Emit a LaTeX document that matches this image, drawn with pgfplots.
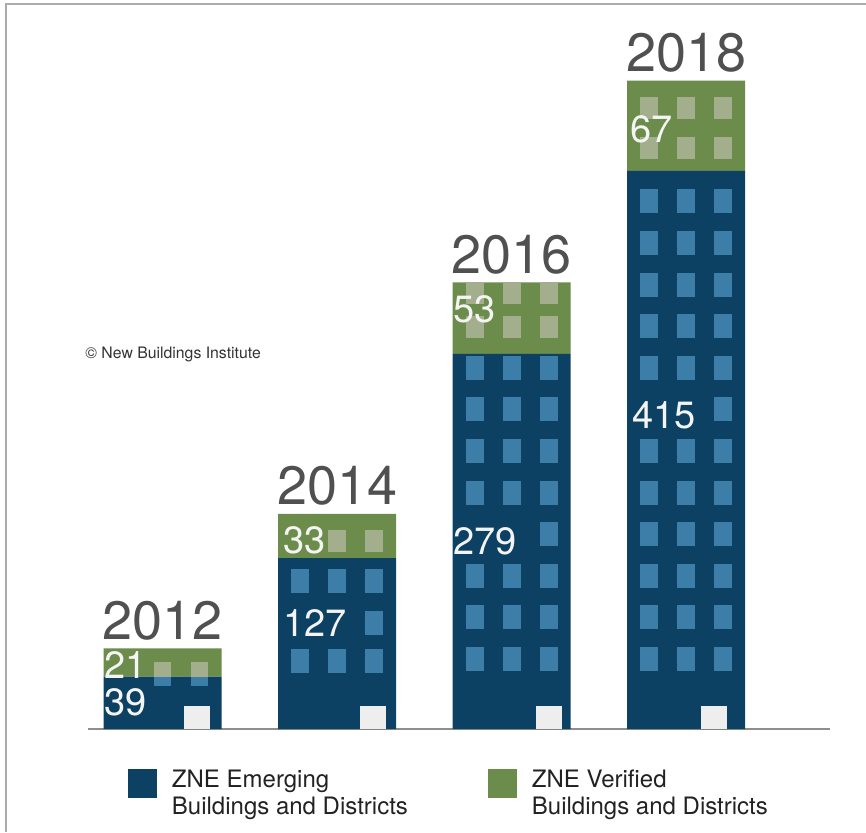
\documentclass[border=0pt]{standalone}
\usepackage{pgfplots}
\pgfplotsset{compat=1.18}
\usepackage{fontspec}
\setmainfont{TeX Gyre Heros}
\definecolor{navy}{HTML}{0D4164}
\definecolor{zgreen}{HTML}{6B8C4A}
\definecolor{winblue}{HTML}{3D7EA8}
\definecolor{wingreen}{HTML}{A2AE8C}
\definecolor{doorgray}{HTML}{EEEEEE}
\definecolor{yeargray}{HTML}{505050}
\definecolor{basegray}{HTML}{8E8E8E}
\definecolor{framegray}{HTML}{ABABAB}
\definecolor{labwhite}{HTML}{F4F4F4}
\definecolor{legtext}{HTML}{222222}

\pgfdeclareplotmark{win}{\pgfpathrectangle{\pgfpoint{-4.4pt}{-6pt}}{\pgfpoint{8.8pt}{12pt}}\pgfusepathqfill}
\pgfdeclareplotmark{gwin}{\pgfpathrectangle{\pgfpoint{-4.4pt}{-5.5pt}}{\pgfpoint{8.8pt}{11pt}}\pgfusepathqfill}
\pgfdeclareplotmark{wintop}{\pgfpathrectangle{\pgfpoint{-4.4pt}{0pt}}{\pgfpoint{8.8pt}{7.5pt}}\pgfusepathqfill}
\pgfdeclareplotmark{winbot}{\pgfpathrectangle{\pgfpoint{-4.4pt}{-4.5pt}}{\pgfpoint{8.8pt}{4.5pt}}\pgfusepathqfill}
\pgfdeclareplotmark{door}{\pgfpathrectangle{\pgfpoint{-6.5pt}{0pt}}{\pgfpoint{13pt}{11.5pt}}\pgfusepathqfill}

\pgfplotsset{geom/.style={scale only axis, width=371pt, height=363.15pt,
  xmin=-0.428, xmax=3.824, ymin=0, ymax=540, clip=false}}

\begin{document}
\begin{tikzpicture}
\begin{axis}[geom,
  axis x line*=bottom, axis y line=none,
  x axis line style={draw=basegray, line width=1pt, -},
  xtick=\empty, ytick=\empty,
  ybar stacked, bar width=0.676,
  legend columns=2,
  legend style={at={(0.0539,-0.0496)}, anchor=north west, draw=none, fill=none,
    inner sep=0pt, outer sep=0pt, font=\fontsize{12}{13.5}\selectfont, text=legtext,
    /tikz/every odd column/.append style={column sep=5.5pt},
    /tikz/every even column/.append style={column sep=38pt}},
  legend cell align=left,
  legend style={cells={anchor=north west, inner sep=0pt}},
]
\addplot[fill=navy, draw=none,
  legend image code/.code={\fill[navy] (0pt,-2pt) rectangle (14.5pt,-16.5pt);}]
  coordinates {(0,39) (1,127) (2,279) (3,415)};
\addlegendentry{\begin{tabular}[t]{@{}l@{}}ZNE Emerging\\Buildings and Districts\end{tabular}}
\addplot[fill=zgreen, draw=none,
  legend image code/.code={\fill[zgreen] (0pt,-2pt) rectangle (14.5pt,-16.5pt);}]
  coordinates {(0,21) (1,33) (2,53) (3,67)};
\addlegendentry{\begin{tabular}[t]{@{}l@{}}ZNE Verified\\Buildings and Districts\end{tabular}}
\node[anchor=west, inner sep=0pt, text=black!80, font=\fontsize{7.9}{9}\selectfont]
  at (rel axis cs:-0.004,0.5163) {© New Buildings Institute};
\end{axis}

\begin{axis}[geom, hide axis]
% windows on the dark part
\addplot[only marks, mark=win, color=winblue] coordinates {
 (2.788,52.0) (3,52.0) (3.212,52.0)
 (2.788,83.0) (3,83.0) (3.212,83.0)
 (2.788,113.9) (3,113.9) (3.212,113.9)
 (2.788,144.8) (3,144.8) (3.212,144.8)
 (2.788,175.7) (3,175.7) (3.212,175.7)
 (2.788,206.7) (3,206.7) (3.212,206.7)
 (3.212,237.6)
 (2.788,268.5) (3,268.5) (3.212,268.5)
 (2.788,299.5) (3,299.5) (3.212,299.5)
 (2.788,330.4) (3,330.4) (3.212,330.4)
 (2.788,361.3) (3,361.3) (3.212,361.3)
 (2.788,392.3) (3,392.3) (3.212,392.3)
 (1.788,52.0) (2,52.0) (2.212,52.0)
 (1.788,83.0) (2,83.0) (2.212,83.0)
 (1.788,113.9) (2,113.9) (2.212,113.9)
 (2.212,144.8)
 (1.788,175.7) (2,175.7) (2.212,175.7)
 (1.788,206.7) (2,206.7) (2.212,206.7)
 (1.788,237.6) (2,237.6) (2.212,237.6)
 (1.788,268.5) (2,268.5) (2.212,268.5)
 (0.788,50.2) (1,50.2) (1.212,50.2)
 (1.212,78.8)
 (0.788,110.4) (1,110.4) (1.212,110.4)
};
% windows on the green part
\addplot[only marks, mark=gwin, color=wingreen] coordinates {
 (1,140.1) (1.212,140.1)
 (1.788,298.9) (2,298.9) (2.212,298.9)
 (1.788,324.2) (2,324.2) (2.212,324.2)
 (2.788,432.0) (3,432.0) (3.212,432.0)
 (2.788,461.7) (3,461.7) (3.212,461.7)
};
\addplot[only marks, mark=wintop, color=wingreen] coordinates {(0,39) (0.212,39)};
\addplot[only marks, mark=winbot, color=winblue] coordinates {(0,39) (0.212,39)};
% doors
\addplot[only marks, mark=door, color=doorgray] coordinates {(0.195,0) (1.206,0) (2.215,0) (3.158,0)};
% value labels
\addplot[draw=none, nodes near coords, point meta=explicit symbolic,
  nodes near coords style={anchor=base west, inner sep=0pt, text=labwhite,
  font=\fontsize{19}{19}\selectfont}] coordinates {
 (-0.338,10)[39] (-0.338,37.5)[21] (0.691,69.1)[127] (0.691,130.5)[33]
 (1.662,129.4)[279] (1.662,301.9)[53] (2.69,223.8)[415] (2.68,436.4)[67]};
% year labels
\addplot[draw=none, nodes near coords, point meta=explicit symbolic,
  nodes near coords style={anchor=base, inner sep=0pt, yshift=4.5pt, text=yeargray,
  font=\fontsize{27}{27}\selectfont}] coordinates {
 (0,60)[2012] (1,160)[2014] (2,332)[2016] (3,482)[2018]};
\end{axis}
\draw[framegray, line width=1pt] (-41pt,-51.5pt) -- (-41pt,362.5pt) -- (389pt,362.5pt);
\pgfresetboundingbox
\path[use as bounding box] (-44pt,-51.5pt) rectangle (389pt,364.5pt);
\end{tikzpicture}
\end{document}
